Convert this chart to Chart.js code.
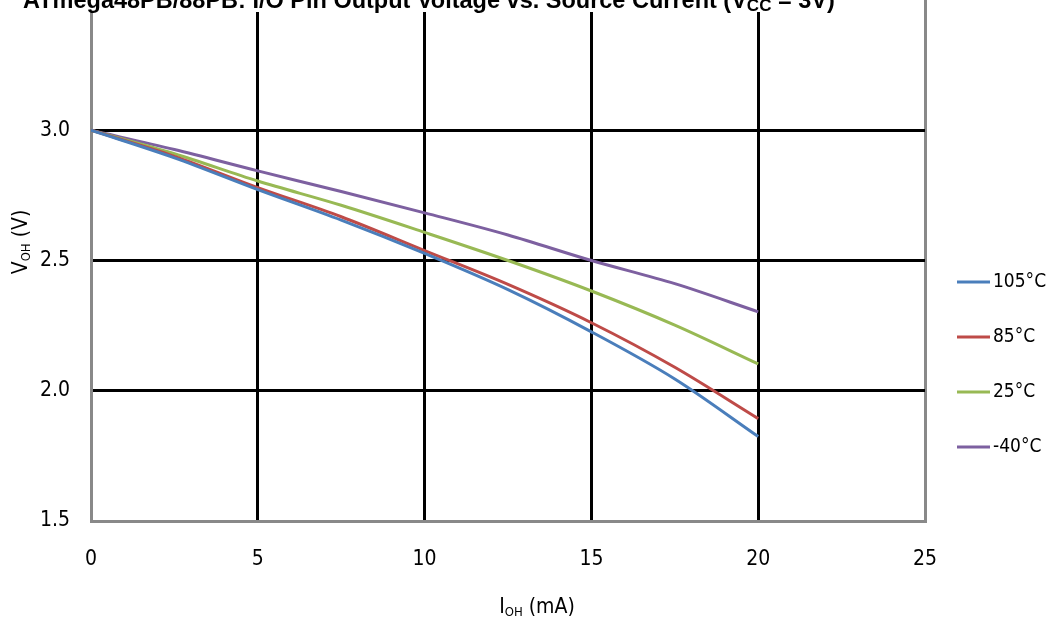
<!DOCTYPE html>
<html>
<head>
<meta charset="utf-8">
<script src="https://cdn.jsdelivr.net/npm/chart.js@4/dist/chart.umd.min.js"></script>
<style>
  body { margin: 0; background: #fff; }
  #wrap { width: 1049px; height: 627px; }
</style>
</head>
<body>
<div id="wrap"><canvas id="chart" width="1049" height="627"></canvas></div>
<script>
// source current I_OH (mA)
const currents = [0, 2.5, 5, 7.5, 10, 12.5, 15, 17.5, 20];
const seriesNames = ["105°C", "85°C", "25°C", "-40°C"];
const v105 = [3.0, 2.894, 2.772, 2.655, 2.527, 2.388, 2.226, 2.045, 1.824];
const v85 = [3.0, 2.900, 2.780, 2.668, 2.538, 2.408, 2.261, 2.090, 1.893];
const v25 = [3.0, 2.910, 2.805, 2.712, 2.608, 2.500, 2.383, 2.252, 2.103];
const vm40 = [3.0, 2.926, 2.844, 2.765, 2.683, 2.598, 2.500, 2.411, 2.303];
const xTicks = [0, 5, 10, 15, 20, 25];
const yTicks = [1.5, 2.0, 2.5, 3.0];

const colors = ["#4A7EBB", "#BE4B48", "#98B954", "#7D60A0"];
const narrow = "'Liberation Sans Narrow', 'Arial Narrow', 'DejaVu Sans Condensed', sans-serif";

function points(vals) {
    return currents.map((c, i) => ({ x: c, y: vals[i] }));
}

const datasets = [v105, v85, v25, vm40].map((vals, i) => ({
    label: seriesNames[i],
    data: points(vals),
    borderColor: colors[i],
    backgroundColor: colors[i],
    borderWidth: 3,
    pointRadius: 0,
    cubicInterpolationMode: "monotone"
}));

// draws text pieces with subscripts, left to right from x
function drawParts(ctx, parts, x, y) {
    parts.forEach(p => {
        ctx.font = p.font;
        ctx.fillText(p.text, x, y + (p.dy || 0));
        x += ctx.measureText(p.text).width;
    });
}
function partsWidth(ctx, parts) {
    return parts.reduce((w, p) => { ctx.font = p.font; return w + ctx.measureText(p.text).width; }, 0);
}

const textPlugin = {
    id: "figureText",
    afterDraw(chart) {
        const ctx = chart.ctx;
        ctx.save();
        ctx.textAlign = "left";
        ctx.textBaseline = "alphabetic";

        // title, cut at the top like the source figure
        ctx.fillStyle = "#fff";
        ctx.fillRect(0, 0, 862, 12);
        ctx.fillStyle = "#000";
        const bold = "bold 23.5px 'Liberation Sans', Arial, sans-serif";
        const boldSub = "bold 17px 'Liberation Sans', Arial, sans-serif";
        drawParts(ctx, [
            { text: "ATmega48PB/88PB: I/O Pin Output Voltage vs. Source Current (V", font: bold },
            { text: "CC", font: boldSub, dy: 3 },
            { text: " = 3V)", font: bold }
        ], 23, 8);

        // x axis title
        const big = "21px " + narrow;
        const small = "13px " + narrow;
        const xParts = [
            { text: "I", font: big },
            { text: "OH", font: small, dy: 3 },
            { text: " (mA)", font: big }
        ];
        drawParts(ctx, xParts, 537 - partsWidth(ctx, xParts) / 2, 613);

        // y axis title
        const yParts = [
            { text: "V", font: big },
            { text: "OH", font: small, dy: 3 },
            { text: " (V)", font: big }
        ];
        ctx.save();
        ctx.translate(27, 242);
        ctx.rotate(-Math.PI / 2);
        drawParts(ctx, yParts, -partsWidth(ctx, yParts) / 2, 0);
        ctx.restore();

        // legend on the right
        ctx.font = "19px " + narrow;
        ctx.textBaseline = "middle";
        chart.data.datasets.forEach((ds, i) => {
            const y = 282 + i * 55;
            ctx.strokeStyle = ds.borderColor;
            ctx.lineWidth = 3;
            ctx.beginPath();
            ctx.moveTo(957, y);
            ctx.lineTo(990, y);
            ctx.stroke();
            ctx.fillStyle = "#000";
            ctx.fillText(ds.label, 993, y);
        });
        ctx.restore();
    }
};

new Chart(document.getElementById("chart"), {
    type: "line",
    data: { datasets },
    options: {
        responsive: false,
        animation: false,
        layout: { padding: { top: 0, right: 124, bottom: 0, left: 0 } },
        scales: {
            x: {
                type: "linear",
                min: 0,
                max: 25,
                afterBuildTicks: s => { s.ticks = xTicks.map(v => ({ value: v })); },
                afterFit: s => { s.height = 106; },
                grid: {
                    color: c => c.tick && c.tick.value === 25 ? "#898989" : "#000",
                    lineWidth: 3,
                    drawTicks: false
                },
                border: { color: "#898989", width: 3 },
                ticks: {
                    color: "#000",
                    padding: 26,
                    font: { family: narrow, size: 21 }
                }
            },
            y: {
                min: 1.5,
                max: 3.5,
                afterBuildTicks: s => { s.ticks = yTicks.map(v => ({ value: v })); },
                afterFit: s => { s.width = 91; s.paddingTop = 0; s.paddingBottom = 0; },
                grid: {
                    color: "#000",
                    lineWidth: 3,
                    drawTicks: false
                },
                border: { color: "#898989", width: 3 },
                ticks: {
                    color: "#000",
                    padding: 21,
                    font: { family: narrow, size: 21 },
                    callback: v => v.toFixed(1)
                }
            }
        },
        plugins: {
            tooltip: { enabled: false },
            legend: { display: false }
        }
    },
    plugins: [textPlugin]
});
</script>
</body>
</html>
